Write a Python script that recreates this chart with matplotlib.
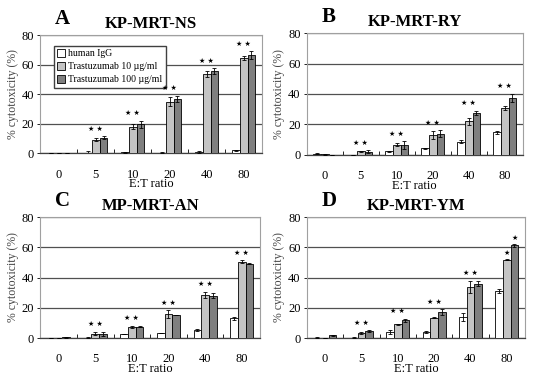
import matplotlib
matplotlib.use("Agg")
import matplotlib.pyplot as plt
import numpy as np

ratios = ["0", "5", "10", "20", "40", "80"]
series = ["human IgG", "Trastuzumab 10 \u00b5g/ml", "Trastuzumab 100 \u00b5g/ml"]
colors = ["white", "#c4c4c4", "#7f7f7f"]

# panel A: KP-MRT-NS
a_igg = [0.3, 0.5, 0.8, 0.5, 0.8, 2.0]
a_t10 = [0.4, 9.0, 18.0, 35.0, 53.5, 64.5]
a_t100 = [0.4, 10.5, 19.5, 37.0, 55.5, 66.5]
a_igg_err = [0.1, 1.0, 0.3, 0.2, 0.4, 0.3]
a_t10_err = [0.1, 1.0, 1.5, 3.0, 2.0, 1.3]
a_t100_err = [0.1, 1.0, 2.5, 2.0, 2.0, 2.5]
a_stars = ["", "**", "**", "**", "**", "**"]

# panel B: KP-MRT-RY
b_igg = [0.7, 0.0, 2.2, 4.3, 8.7, 14.7]
b_t10 = [0.3, 2.2, 6.6, 13.2, 22.0, 30.8]
b_t100 = [0.0, 2.0, 6.5, 14.0, 27.5, 37.5]
b_igg_err = [0.3, 0.0, 0.3, 0.2, 0.8, 1.0]
b_t10_err = [0.2, 0.5, 1.0, 2.5, 2.5, 1.5]
b_t100_err = [0.0, 1.0, 2.5, 2.0, 1.5, 2.5]
b_stars = ["", "**", "**", "**", "**", "**"]

# panel C: MP-MRT-AN
c_igg = [0.0, 0.3, 2.5, 3.2, 5.5, 13.0]
c_t10 = [0.0, 2.8, 7.5, 15.8, 28.5, 50.5]
c_t100 = [0.6, 2.8, 7.6, 15.2, 28.0, 49.0]
c_igg_err = [0.0, 0.1, 0.1, 0.1, 0.8, 1.2]
c_t10_err = [0.0, 1.0, 0.6, 2.5, 2.0, 1.0]
c_t100_err = [0.3, 1.5, 0.3, 0.0, 1.5, 0.3]
c_stars = ["", "**", "**", "**", "**", "**"]

# panel D: KP-MRT-YM
d_igg = [0.3, 0.3, 4.0, 4.0, 14.0, 31.0]
d_t10 = [0.0, 3.5, 9.0, 13.5, 34.0, 51.8]
d_t100 = [1.8, 4.6, 11.6, 17.2, 36.0, 61.2]
d_igg_err = [0.2, 0.2, 1.5, 0.8, 2.5, 1.5]
d_t10_err = [0.0, 0.5, 0.3, 0.3, 4.0, 0.3]
d_t100_err = [0.3, 0.5, 1.0, 2.0, 1.5, 0.8]
d_stars = ["", "**", "**", "**", "**", "*|*"]

panels = [
    ("A", "KP-MRT-NS", [a_igg, a_t10, a_t100], [a_igg_err, a_t10_err, a_t100_err], a_stars,
     [0.074, 0.606, 0.408, 0.304]),
    ("B", "KP-MRT-RY", [b_igg, b_t10, b_t100], [b_igg_err, b_t10_err, b_t100_err], b_stars,
     [0.564, 0.602, 0.397, 0.313]),
    ("C", "MP-MRT-AN", [c_igg, c_t10, c_t100], [c_igg_err, c_t10_err, c_t100_err], c_stars,
     [0.074, 0.131, 0.404, 0.311]),
    ("D", "KP-MRT-YM", [d_igg, d_t10, d_t100], [d_igg_err, d_t10_err, d_t100_err], d_stars,
     [0.564, 0.131, 0.401, 0.311]),
]

plt.rcParams['font.family'] = ['Liberation Serif', 'DejaVu Serif']

fig = plt.figure(figsize=(5.44, 3.89), dpi=100)
x = np.arange(len(ratios))
w = 0.21

for letter, title, vals, errs, stars, rect in panels:
    ax = fig.add_axes(rect)
    for i in range(3):
        ax.bar(x + (i - 1) * w, vals[i], w, color=colors[i], edgecolor="black",
               linewidth=0.6, yerr=errs[i], error_kw=dict(elinewidth=0.6, capsize=1.5,
                                                         capthick=0.6, ecolor="black"),
               label=series[i], zorder=3)
    # significance stars
    for j, s in enumerate(stars):
        if not s:
            continue
        t1 = vals[1][j] + errs[1][j]
        t2 = vals[2][j] + errs[2][j]
        if s == "**":
            h = max(t1, t2) + 3
            ax.text(x[j], h, "\u2605 \u2605", ha="center", va="bottom", fontsize=5,
                    family="DejaVu Sans", zorder=4)
        else:
            ax.text(x[j], t1 + 2.5, "\u2605", ha="center", va="bottom", fontsize=5,
                    family="DejaVu Sans", zorder=4)
            ax.text(x[j] + w, t2 + 2.5, "\u2605", ha="center", va="bottom", fontsize=5,
                    family="DejaVu Sans", zorder=4)
    ax.set_xlim(-0.5, 5.5)
    ax.set_ylim(0, 80)
    ax.set_yticks([0, 20, 40, 60, 80])
    ax.set_xticks(x)
    ax.set_xticklabels(ratios)
    ax.set_xticks(x[:-1] + 0.5, minor=True)
    ax.tick_params(axis="x", which="major", length=0, pad=11, labelsize=9)
    ax.tick_params(axis="x", which="minor", length=3, direction="in", width=0.6)
    ax.tick_params(axis="y", length=2.5, width=0.6, labelsize=9, pad=2)
    ax.yaxis.grid(True, color="#505050", linewidth=0.9, zorder=0)
    ax.set_axisbelow(True)
    for side in ["top", "right", "left"]:
        ax.spines[side].set_color("#a0a0a0")
        ax.spines[side].set_linewidth(0.8)
    ax.spines["bottom"].set_color("#404040")
    ax.spines["bottom"].set_linewidth(0.9)
    ax.set_xlabel("E:T ratio", fontsize=9, labelpad=-1.5)
    ax.set_ylabel("% cytotoxicity (%)", fontsize=8.5, color="#444444", labelpad=2)
    ax.text(0.1, 1.05, letter, transform=ax.transAxes, fontsize=15, fontweight="bold",
            ha="center", va="bottom")
    ax.set_title(title, fontsize=12, fontweight="bold", pad=5)
    if letter == "A":
        leg = ax.legend(loc="upper left", bbox_to_anchor=(0.04, 0.95), fontsize=7,
                        frameon=True, fancybox=False, edgecolor="#404040", framealpha=1,
                        handlelength=0.8, handleheight=0.8, handletextpad=0.3,
                        borderpad=0.35, labelspacing=0.4)
        leg.set_zorder(2.5)

fig.savefig("out.png", dpi=100)
